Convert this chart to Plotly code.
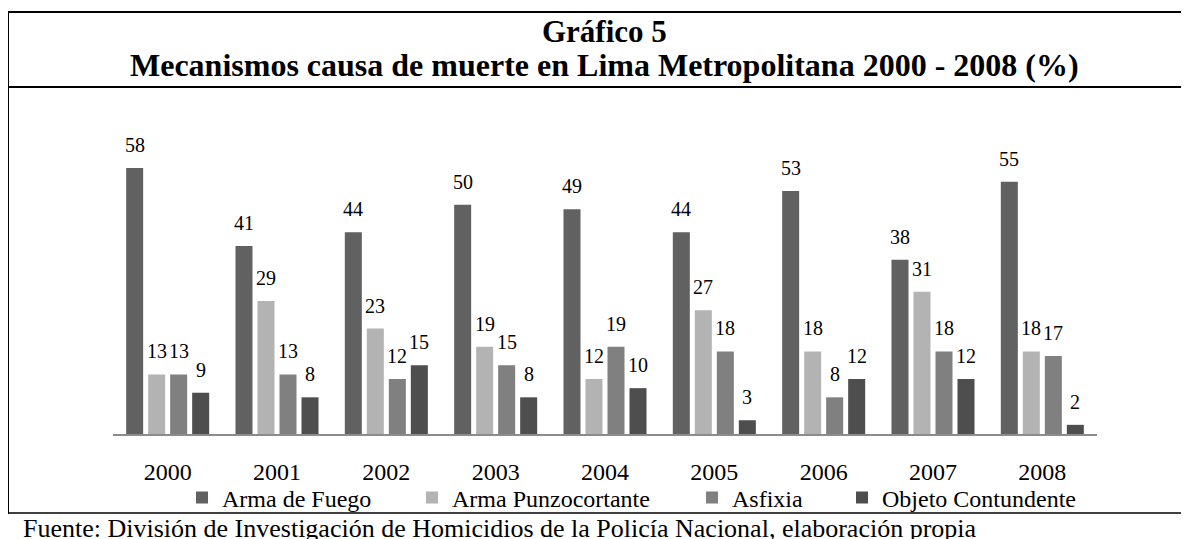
import plotly.graph_objects as go

years = ["2000", "2001", "2002", "2003", "2004", "2005", "2006", "2007", "2008"]
arma_fuego = [58, 41, 44, 50, 49, 44, 53, 38, 55]
arma_punzo = [13, 29, 23, 19, 12, 27, 18, 31, 18]
asfixia = [13, 13, 12, 15, 19, 18, 8, 18, 17]
objeto = [9, 8, 15, 8, 10, 3, 12, 12, 2]

series_names = ["Arma de Fuego", "Arma Punzocortante", "Asfixia", "Objeto Contundente"]
series_values = [arma_fuego, arma_punzo, asfixia, objeto]
colors = ["#616161", "#b3b3b3", "#808080", "#4e4e4e"]

title_1 = "Gráfico 5"
title_2 = "Mecanismos causa de muerte en Lima Metropolitana 2000 - 2008 (%)"
footer = "Fuente: División de Investigación de Homicidios de la Policía Nacional, elaboración propia"

# page body adds an 8px offset; work in reference pixels and shift
OFF = 8
W, H = 1189 - OFF, 539 - OFF
PLOT_L, PLOT_R, PLOT_T, PLOT_B = 113, 1097, 100, 434   # reference pixels
L, R, T, B = PLOT_L - OFF, W - (PLOT_R - OFF), PLOT_T - OFF, H - (PLOT_B - OFF)
PW, PH = PLOT_R - PLOT_L, PLOT_B - PLOT_T
FONT = "Liberation Serif, Times New Roman, serif"

def px_x(p):
    return (p - PLOT_L) / PW

def px_y(p):
    return (PLOT_B - p) / PH

fig = go.Figure()
legend_ids = ["legend", "legend2", "legend3", "legend4"]
for name, vals, col, lg in zip(series_names, series_values, colors, legend_ids):
    fig.add_trace(go.Bar(
        x=years, y=vals, name=name, legend=lg,
        marker=dict(color=col, line=dict(width=0)),
    ))

# value labels above each bar
slot_px = 22
for i, vals in enumerate(series_values):
    for j, v in enumerate(vals):
        fig.add_annotation(
            x=j, y=v, xref="x", yref="y", text=str(v), showarrow=False,
            xanchor="center", yanchor="bottom", xshift=(i - 1.5) * slot_px, yshift=10,
            font=dict(family=FONT, size=20, color="#000000"),
        )

# titles and footer
fig.add_annotation(x=px_x(604.5), y=px_y(31), xref="paper", yref="paper", text=f"<b>{title_1}</b>",
                   showarrow=False, xanchor="center", yanchor="middle",
                   font=dict(family=FONT, size=31, color="#000000"))
fig.add_annotation(x=px_x(604.5), y=px_y(65), xref="paper", yref="paper", text=f"<b>{title_2}</b>",
                   showarrow=False, xanchor="center", yanchor="middle",
                   font=dict(family=FONT, size=32, color="#000000"))
fig.add_annotation(x=px_x(21), y=px_y(528), xref="paper", yref="paper", text=footer,
                   showarrow=False, xanchor="left", yanchor="middle",
                   font=dict(family=FONT, size=26, color="#000000"))

# frame lines
line_style = dict(color="#000000", width=2)
fig.add_shape(type="line", xref="paper", yref="paper", x0=px_x(8), x1=px_x(1189), y0=px_y(12), y1=px_y(12), line=line_style)
fig.add_shape(type="line", xref="paper", yref="paper", x0=px_x(8), x1=px_x(1189), y0=px_y(87), y1=px_y(87), line=line_style)
fig.add_shape(type="line", xref="paper", yref="paper", x0=px_x(8), x1=px_x(8), y0=px_y(11), y1=px_y(514), line=line_style)
fig.add_shape(type="line", xref="paper", yref="paper", x0=px_x(8), x1=px_x(1189), y0=px_y(513), y1=px_y(513),
              line=dict(color="#000000", width=1.5))

leg_text_x = [217, 447, 727, 877]
layout_legends = {}
for lg, tx in zip(legend_ids, leg_text_x):
    layout_legends[lg] = dict(
        x=(tx - 35 - OFF) / W, y=1 - (498 - OFF) / H, xref="container", yref="container",
        xanchor="left", yanchor="middle", orientation="h",
        font=dict(family=FONT, size=24, color="#000000"),
        bgcolor="rgba(0,0,0,0)", borderwidth=0,
    )

fig.update_layout(
    width=W, height=H,
    margin=dict(l=L, r=R, t=T, b=B, pad=0, autoexpand=False),
    paper_bgcolor="#ffffff", plot_bgcolor="#ffffff",
    barmode="group", bargap=0.195, bargroupgap=0.227,
    showlegend=True,
    font=dict(family=FONT, color="#000000"),
    xaxis=dict(type="category", range=[-0.5, len(years) - 0.5], showline=True, linecolor="#8c8c8c",
               linewidth=2, showgrid=False, zeroline=False, automargin=False,
               ticks="", tickfont=dict(family=FONT, size=24, color="#000000"), ticklabelstandoff=15),
    yaxis=dict(range=[0, PH / 4.586], visible=False, showgrid=False, zeroline=False, automargin=False),
    **layout_legends,
)

fig.write_html("out.html")
